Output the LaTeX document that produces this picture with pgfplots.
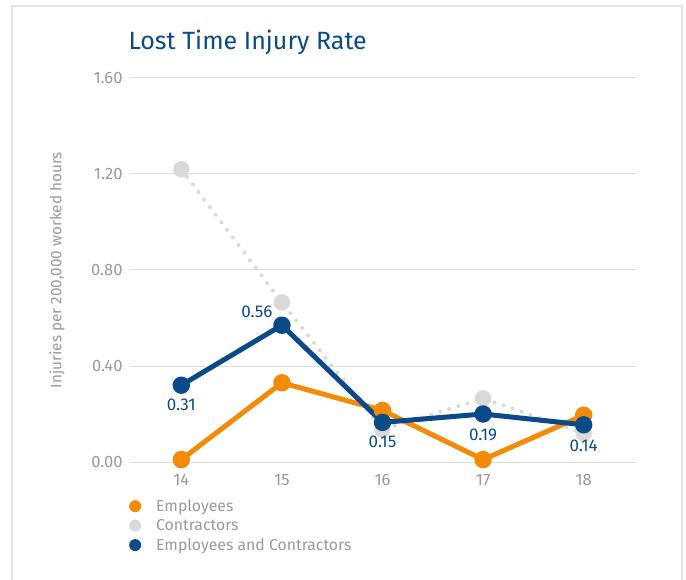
\documentclass[border=0pt]{standalone}
\usepackage{pgfplots}
\pgfplotsset{compat=1.18}
\usepackage{fontspec}
\setmainfont{Fira Sans}

\definecolor{ltiorange}{HTML}{F58A07}
\definecolor{ltiblue}{HTML}{0A4A89}
\definecolor{ltilight}{HTML}{D9D9D9}
\definecolor{ltitext}{HTML}{999999}
\definecolor{ltigrid}{HTML}{DDDDDD}
\definecolor{ltiframe}{HTML}{E3E3E3}

% Lost time injury rate, per 200,000 worked hours
\pgfplotstableread{
x    y
14   0.01
15   0.33
16   0.215
17   0.01
18   0.195
}\employees

\pgfplotstableread{
x    y
14   1.22
15   0.665
16   0.135
17   0.265
18   0.12
}\contractors

% dx, dy: where the value label sits relative to its point (pt)
\pgfplotstableread{
x    y      lab   dx    dy
14   0.32   0.31  0     -20
15   0.57   0.56  -25   13
16   0.165  0.15  0     -19
17   0.20   0.19  0     -21
18   0.155  0.14  0     -21
}\combined

\begin{document}
\begin{tikzpicture}
\path[use as bounding box] (0,0) rectangle (686pt,579pt);
\draw[ltiframe, line width=1.5pt] (12pt,-2pt) -- (12pt,573pt) -- (682pt,573pt) -- (682pt,-2pt);
\begin{axis}[
    scale only axis,
    width=506pt, height=384pt,
    at={(130pt,117pt)}, anchor=south west,
    xmin=13.49, xmax=18.52,
    ymin=0, ymax=1.6,
    xtick={14,15,16,17,18},
    ytick={0,0.4,0.8,1.2,1.6},
    axis line style={draw=none},
    major tick length=0pt,
    ymajorgrids=true,
    grid style={ltigrid, line width=1pt},
    tick label style={font=\fontsize{16.5}{18}\selectfont, text=ltitext},
    /pgf/number format/assume math mode=true,
    yticklabel style={/pgf/number format/fixed, /pgf/number format/fixed zerofill,
        /pgf/number format/precision=2, xshift=-4pt},
    xticklabel style={/pgf/number format/1000 sep={}, yshift=-9pt},
    ylabel={Injuries per 200,000 worked hours},
    ylabel style={at={(axis description cs:-0.144,0.5)}, anchor=center,
        font=\fontsize{15.3}{17}\selectfont, text=ltitext},
    title={Lost Time Injury Rate},
    title style={at={(axis description cs:0,1)}, anchor=base west,
        xshift=-5pt, yshift=22pt,
        font=\fontsize{25}{28}\selectfont, text=ltiblue},
    legend style={at={(axis description cs:-0.008,-0.088)}, anchor=north west,
        draw=none, fill=none, font=\fontsize{15.8}{17}\selectfont, text=ltitext,
        row sep=3.5pt, nodes={inner ysep=1.5pt},
        /tikz/every odd column/.append style={column sep=13pt}},
    legend cell align=left,
    legend image code/.code={\fill[#1, draw=none] (5pt,0pt) circle (6pt);},
    clip=false,
]
\addlegendimage{ltiorange}
\addlegendimage{ltilight}
\addlegendimage{ltiblue}
\legend{Employees, Contractors, Employees and Contractors}

\addplot[forget plot, color=ltilight, line width=4pt, line cap=round,
    dash pattern=on 0pt off 9.5pt,
    mark=*, mark size=6.2pt, mark options={solid, fill=ltilight, draw=none}]
    table[x=x, y=y] {\contractors};
\addplot[forget plot, color=ltiorange, line width=5pt, line join=round,
    mark=*, mark size=6.2pt, mark options={fill=ltiorange, draw=none}]
    table[x=x, y=y] {\employees};
\addplot[forget plot, color=ltiblue, line width=5pt, line join=round,
    mark=*, mark size=6.2pt, mark options={fill=ltiblue, draw=none},
    point meta=explicit symbolic,
    visualization depends on={\thisrow{dx} \as \lbldx},
    visualization depends on={\thisrow{dy} \as \lbldy},
    nodes near coords,
    every node near coord/.append style={anchor=center,
        xshift=\lbldx pt, yshift=\lbldy pt,
        font=\fontsize{17}{18}\selectfont, text=ltiblue}]
    table[x=x, y=y, meta=lab] {\combined};
\end{axis}
\end{tikzpicture}
\end{document}
